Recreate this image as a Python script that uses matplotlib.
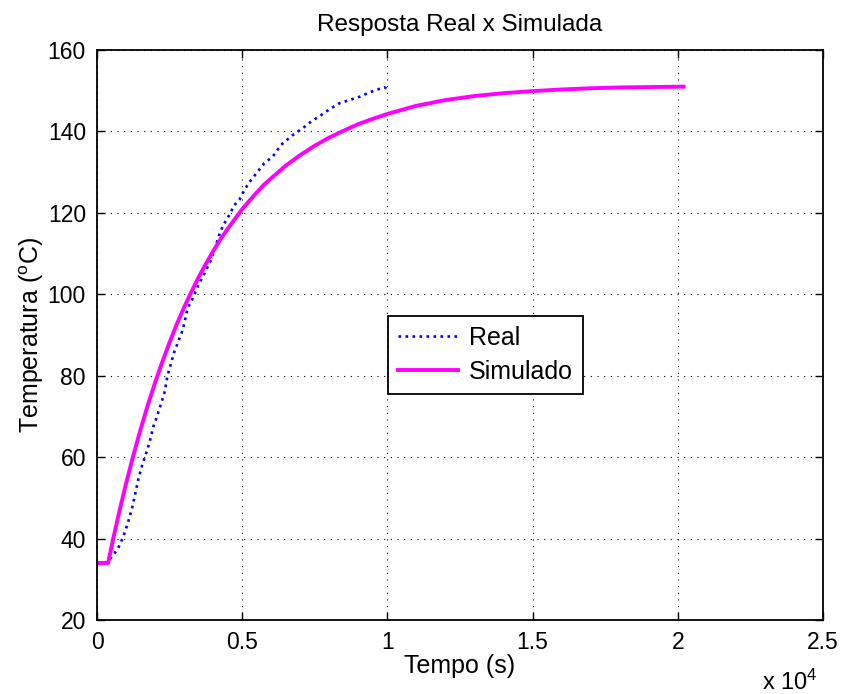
import matplotlib
matplotlib.use("Agg")
import matplotlib.pyplot as plt

plt.rcParams['font.family'] = ['Liberation Sans', 'DejaVu Sans']
plt.rcParams['mathtext.fontset'] = 'custom'
plt.rcParams['mathtext.rm'] = 'Liberation Sans'
plt.rcParams['mathtext.it'] = 'Liberation Sans:italic'

# Real (measured) response
t_real = [0, 300, 482, 712, 885, 1057, 1205, 1320, 1424, 1574, 1688, 1801, 1940,
          2032, 2204, 2318, 2434, 2663, 2950, 3123, 3296, 3468, 3640, 3788, 3926,
          4040, 4247, 4384, 4557, 4729, 4901, 5073, 5245, 5533, 5763, 6050, 6336,
          6739, 7084, 7370, 7715, 8059, 8345, 8689, 9034, 9322, 9609, 9895, 10000]
T_real = [34.0, 34.2, 35.3, 37.4, 40.1, 43.7, 47.4, 51.1, 54.6, 58.5, 60.9, 63.4, 67.5,
          69.3, 73.1, 75.7, 80.2, 85.9, 91.2, 96.6, 99.0, 101.9, 104.3, 106.4, 108.4,
          110.9, 115.4, 117.4, 119.5, 121.9, 123.2, 125.6, 127.5, 130.1, 132.2, 133.8, 136.7,
          139.1, 140.8, 142.4, 144.0, 145.7, 146.9, 147.7, 148.5, 149.4, 150.2, 150.8, 150.5]

# Simulated response
t_sim = [0, 380, 600, 800, 1000, 1250, 1500, 1750, 2000, 2250, 2500, 2750, 3000,
         3250, 3500, 3750, 4000, 4250, 4500, 4750, 5000, 5250, 5500, 5750, 6000,
         6500, 7000, 7500, 8000, 8500, 9000, 9500, 10000, 11000, 12000, 13000,
         14000, 15000, 16000, 17000, 18000, 19000, 20200]
T_sim = [34.0, 34.0, 41.3, 47.6, 53.5, 60.4, 66.8, 72.8, 78.3, 83.4, 88.2, 92.7, 96.8,
         100.6, 104.2, 107.5, 110.6, 113.5, 116.1, 118.5, 120.9, 123.0, 125.0, 126.9, 128.5,
         131.6, 134.2, 136.5, 138.5, 140.2, 141.8, 143.1, 144.3, 146.3, 147.7, 148.7,
         149.4, 149.9, 150.3, 150.6, 150.8, 150.9, 151.0]

xticks = [0, 5000, 10000, 15000, 20000, 25000]
xtick_labels = ['0', '0.5', '1', '1.5', '2', '2.5']
yticks = [20, 40, 60, 80, 100, 120, 140, 160]

fig = plt.figure(figsize=(8.44, 6.94), dpi=100)
ax = fig.add_axes([97/844, 1-620/694, (823-97)/844, (620-50)/694])

ax.plot(t_real, T_real, color='#0000ff', linestyle=':', linewidth=1.9, label='Real')
ax.plot(t_sim, T_sim, color='#ff00ff', linestyle='-', linewidth=2.8, label='Simulado')

ax.set_xlim(0, 25000)
ax.set_ylim(20, 160)
ax.set_xticks(xticks)
ax.set_xticklabels(xtick_labels)
ax.set_yticks(yticks)
ax.tick_params(direction='in', length=6, width=1, top=True, right=True,
               labelsize=16.5, pad=8, colors='black')
ax.grid(True, color='black', linestyle=(0, (1, 5)), linewidth=0.8)
for s in ax.spines.values():
    s.set_linewidth(1.3)

ax.set_title('Resposta Real x Simulada', fontsize=17.5, pad=14)
ax.set_xlabel('Tempo (s)', fontsize=18, labelpad=0)
ax.set_ylabel('Temperatura ($^{\\mathrm{o}}$C)', fontsize=18, labelpad=1)
fig.text(818/844, 1-682/694, 'x 10$^{4}$', fontsize=17, ha='right', va='center')

leg = ax.legend(loc='upper left', bbox_to_anchor=(388/844, 1-316/694),
                bbox_transform=fig.transFigure, fontsize=18, fancybox=False,
                framealpha=1, edgecolor='black', handlelength=2.4,
                borderpad=0.4, labelspacing=0.4, handletextpad=0.45, borderaxespad=0)
leg.get_frame().set_linewidth(1.3)

fig.savefig('out.png', dpi=100)
